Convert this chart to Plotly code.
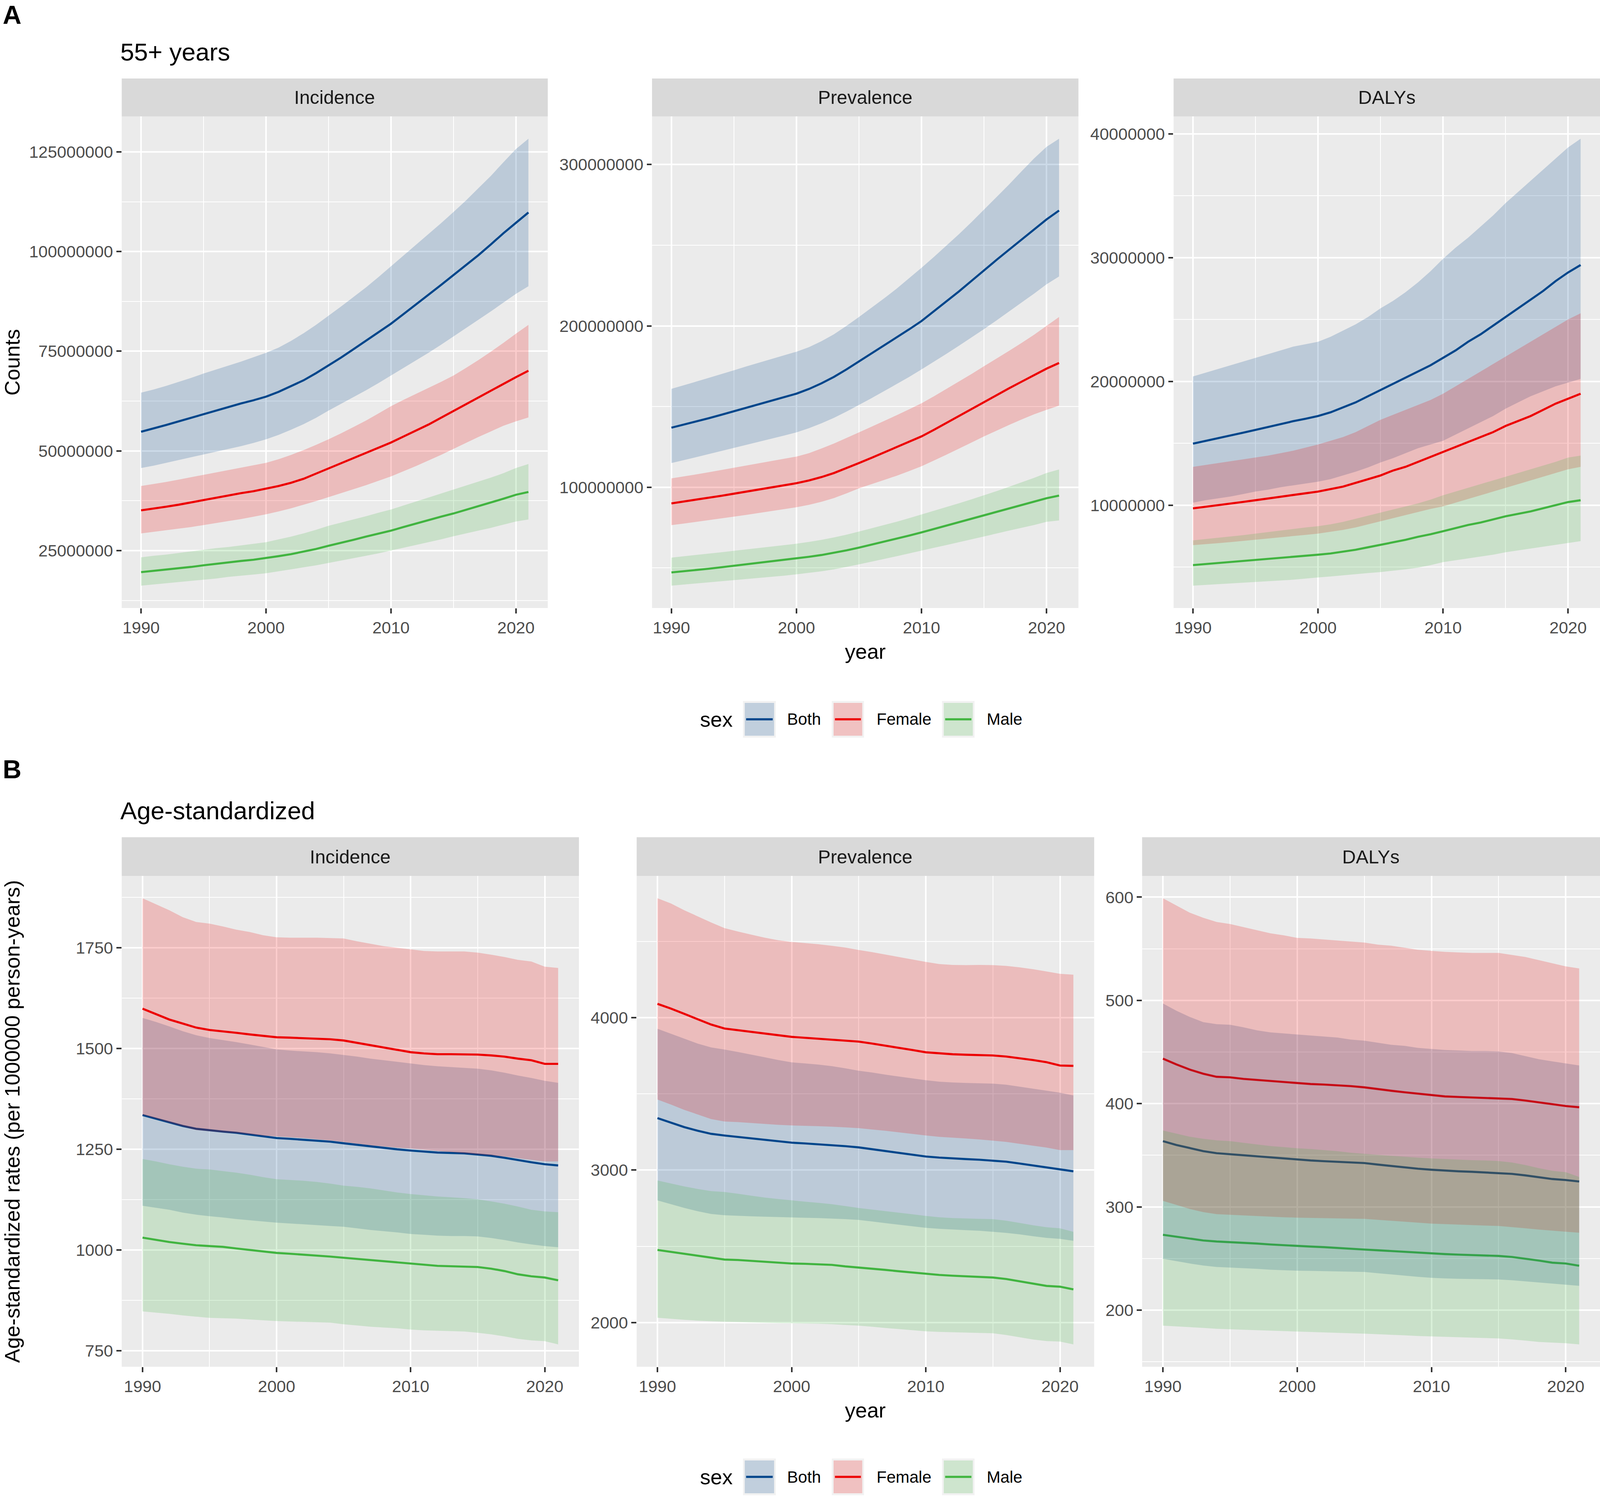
import plotly.graph_objects as go

# ------------------------------------------------------------------ data
years = list(range(1990, 2022))
sexes = ["Both", "Female", "Male"]

# ---- A: 55+ years, counts (values in millions) ----
# Incidence
cnt_inc_both = [54.8, 55.6, 56.5, 57.4, 58.3, 59.3, 60.2, 61.0, 61.9, 62.7,
                63.6, 64.8, 66.2, 67.7, 69.5, 71.4, 73.4, 75.5, 77.6, 79.7,
                81.9, 84.3, 86.7, 89.1, 91.6, 94.1, 96.6, 99.1, 101.8, 104.6,
                107.2, 109.8]
cnt_inc_both_hi = [64.6, 65.4, 66.3, 67.3, 68.3, 69.4, 70.4, 71.4, 72.4, 73.5,
                   74.6, 75.9, 77.6, 79.5, 81.6, 83.9, 86.2, 88.6, 91.0, 93.6,
                   96.3, 99.0, 101.7, 104.4, 107.1, 109.9, 112.8, 115.9, 119.0, 122.4,
                   125.7, 128.3]
cnt_inc_both_lo = [45.7, 46.3, 47.0, 47.7, 48.4, 49.1, 49.8, 50.5, 51.2, 52.0,
                   52.9, 54.0, 55.3, 56.7, 58.3, 60.1, 61.8, 63.5, 65.2, 67.0,
                   68.9, 70.8, 72.7, 74.6, 76.6, 78.7, 80.8, 82.9, 85.0, 87.2,
                   89.4, 91.3]
cnt_inc_fem = [35.1, 35.5, 36.0, 36.5, 37.1, 37.7, 38.3, 38.9, 39.4, 39.9,
               40.5, 41.2, 42.0, 43.0, 44.3, 45.6, 46.9, 48.2, 49.5, 50.8,
               52.1, 53.6, 55.1, 56.6, 58.3, 60.0, 61.7, 63.4, 65.1, 66.9,
               68.5, 70.1]
cnt_inc_fem_hi = [41.2, 41.7, 42.2, 42.8, 43.4, 44.0, 44.6, 45.2, 45.8, 46.4,
                  47.0, 47.9, 49.0, 50.2, 51.5, 52.9, 54.4, 56.0, 57.6, 59.4,
                  61.2, 62.8, 64.3, 65.8, 67.3, 68.9, 70.8, 72.8, 74.9, 77.1,
                  79.4, 81.6]
cnt_inc_fem_lo = [29.3, 29.7, 30.1, 30.5, 30.9, 31.4, 31.9, 32.4, 32.9, 33.5,
                  34.1, 34.8, 35.6, 36.5, 37.4, 38.4, 39.4, 40.4, 41.4, 42.5,
                  43.6, 44.9, 46.2, 47.6, 49.0, 50.5, 52.0, 53.5, 54.9, 56.3,
                  57.4, 58.4]
cnt_inc_male = [19.6, 19.9, 20.2, 20.6, 20.9, 21.3, 21.7, 22.0, 22.4, 22.7,
                23.1, 23.6, 24.1, 24.7, 25.4, 26.2, 26.9, 27.7, 28.5, 29.2,
                30.0, 30.9, 31.8, 32.6, 33.5, 34.3, 35.2, 36.1, 37.0, 38.0,
                39.0, 39.7]
cnt_inc_male_hi = [23.3, 23.7, 24.0, 24.4, 24.8, 25.2, 25.6, 25.9, 26.3, 26.7,
                   27.1, 27.8, 28.5, 29.3, 30.2, 31.2, 32.0, 32.8, 33.6, 34.5,
                   35.3, 36.3, 37.3, 38.3, 39.3, 40.3, 41.3, 42.3, 43.3, 44.4,
                   45.7, 46.7]
cnt_inc_male_lo = [16.2, 16.5, 16.8, 17.1, 17.4, 17.7, 18.0, 18.4, 18.7, 19.0,
                   19.3, 19.8, 20.3, 20.8, 21.3, 21.9, 22.5, 23.1, 23.7, 24.3,
                   25.0, 25.7, 26.4, 27.1, 27.8, 28.6, 29.3, 30.0, 30.7, 31.5,
                   32.3, 32.8]
# Prevalence
cnt_prev_both = [136.9, 138.8, 140.8, 142.8, 144.9, 147.1, 149.3, 151.5, 153.6, 155.8,
                 158.0, 160.9, 164.4, 168.4, 173.0, 178.0, 182.9, 187.8, 192.8, 197.8,
                 203.0, 209.0, 215.2, 221.4, 227.9, 234.5, 240.9, 247.2, 253.6, 259.9,
                 266.0, 271.5]
cnt_prev_both_hi = [161.0, 163.2, 165.5, 167.8, 170.1, 172.5, 174.9, 177.2, 179.5, 181.8,
                    184.0, 186.8, 190.5, 194.8, 200.0, 205.5, 211.2, 217.0, 223.0, 229.4,
                    236.0, 242.8, 249.8, 256.9, 264.3, 272.0, 279.8, 287.6, 295.8, 303.8,
                    311.0, 316.0]
cnt_prev_both_lo = [115.0, 116.8, 118.6, 120.5, 122.4, 124.3, 126.2, 128.2, 130.1, 132.0,
                    134.0, 136.6, 139.6, 143.0, 146.9, 151.0, 155.2, 159.5, 163.8, 168.3,
                    173.0, 177.8, 182.7, 187.7, 192.8, 198.0, 203.4, 208.9, 214.4, 220.0,
                    225.8, 230.6]
cnt_prev_fem = [90.0, 91.1, 92.3, 93.5, 94.7, 96.0, 97.3, 98.6, 99.9, 101.2,
                102.5, 104.2, 106.3, 108.8, 111.8, 115.0, 118.2, 121.5, 124.7, 128.1,
                131.5, 135.6, 139.9, 144.2, 148.6, 153.0, 157.2, 161.3, 165.4, 169.6,
                173.5, 177.0]
cnt_prev_fem_hi = [105.5, 106.7, 108.0, 109.3, 110.7, 112.0, 113.4, 114.8, 116.2, 117.6,
                   119.0, 121.1, 124.0, 127.1, 130.5, 134.0, 137.5, 141.0, 144.6, 148.3,
                   152.0, 156.4, 161.0, 165.5, 170.2, 175.0, 179.7, 184.5, 189.4, 194.5,
                   200.0, 205.5]
cnt_prev_fem_lo = [76.5, 77.5, 78.5, 79.6, 80.7, 81.8, 82.9, 84.0, 85.2, 86.4,
                   87.6, 89.1, 91.0, 93.3, 96.2, 99.3, 101.9, 104.5, 107.1, 110.0,
                   113.0, 116.6, 120.2, 123.9, 127.7, 131.5, 135.1, 138.6, 142.0, 145.2,
                   148.0, 150.6]
cnt_prev_male = [47.2, 47.9, 48.7, 49.5, 50.4, 51.3, 52.2, 53.1, 54.1, 55.0,
                 55.9, 56.9, 58.0, 59.3, 60.9, 62.6, 64.4, 66.2, 68.1, 70.0,
                 72.0, 74.1, 76.1, 78.2, 80.3, 82.4, 84.5, 86.6, 88.7, 90.8,
                 93.2, 94.8]
cnt_prev_male_hi = [56.4, 57.2, 58.0, 58.9, 59.7, 60.6, 61.5, 62.4, 63.3, 64.1,
                    65.0, 66.1, 67.4, 68.9, 70.6, 72.5, 74.5, 76.5, 78.6, 80.8,
                    83.1, 85.4, 87.7, 90.1, 92.5, 95.0, 97.6, 100.3, 103.0, 105.8,
                    108.8, 111.0]
cnt_prev_male_lo = [39.0, 39.6, 40.3, 41.0, 41.7, 42.4, 43.1, 43.8, 44.5, 45.2,
                    46.0, 46.9, 47.9, 49.1, 50.6, 52.2, 53.8, 55.5, 57.2, 59.0,
                    60.8, 62.5, 64.2, 66.0, 67.7, 69.5, 71.3, 73.1, 74.9, 76.6,
                    78.6, 79.4]
# DALYs
cnt_daly_both = [14.97, 15.18, 15.40, 15.62, 15.85, 16.08, 16.32, 16.55, 16.78, 16.98,
                 17.2, 17.5, 17.9, 18.3, 18.8, 19.3, 19.8, 20.3, 20.8, 21.3,
                 21.9, 22.5, 23.2, 23.8, 24.5, 25.2, 25.9, 26.6, 27.3, 28.1,
                 28.8, 29.4]
cnt_daly_both_hi = [20.4, 20.7, 21.0, 21.3, 21.6, 21.9, 22.2, 22.5, 22.8, 23.0,
                    23.2, 23.6, 24.1, 24.6, 25.2, 25.9, 26.5, 27.2, 28.0, 28.9,
                    29.9, 30.8, 31.6, 32.5, 33.4, 34.4, 35.3, 36.2, 37.1, 38.0,
                    38.9, 39.6]
cnt_daly_both_lo = [10.2, 10.4, 10.55, 10.7, 10.9, 11.1, 11.25, 11.45, 11.6, 11.75,
                    11.9, 12.1, 12.4, 12.7, 13.05, 13.45, 13.8, 14.2, 14.6, 14.9,
                    15.2, 15.7, 16.2, 16.7, 17.2, 17.8, 18.3, 18.8, 19.2, 19.6,
                    19.9, 20.2]
cnt_daly_fem = [9.74, 9.86, 9.99, 10.12, 10.26, 10.4, 10.55, 10.69, 10.83, 10.96,
                11.1, 11.3, 11.5, 11.8, 12.1, 12.4, 12.8, 13.1, 13.5, 13.9,
                14.3, 14.7, 15.1, 15.5, 15.9, 16.4, 16.8, 17.2, 17.7, 18.2,
                18.6, 19.0]
cnt_daly_fem_hi = [13.1, 13.25, 13.4, 13.55, 13.7, 13.85, 14.0, 14.2, 14.4, 14.65,
                   14.9, 15.2, 15.5, 15.9, 16.4, 16.9, 17.3, 17.7, 18.1, 18.5,
                   19.0, 19.6, 20.2, 20.8, 21.4, 22.0, 22.6, 23.2, 23.8, 24.4,
                   25.0, 25.5]
cnt_daly_fem_lo = [6.77, 6.85, 6.93, 7.02, 7.11, 7.2, 7.3, 7.4, 7.5, 7.6,
                   7.7, 7.85, 8.0, 8.2, 8.45, 8.7, 8.95, 9.2, 9.45, 9.7,
                   9.9, 10.2, 10.5, 10.8, 11.1, 11.4, 11.7, 12.0, 12.3, 12.6,
                   12.9, 13.1]
cnt_daly_male = [5.16, 5.24, 5.32, 5.41, 5.5, 5.59, 5.68, 5.76, 5.84, 5.92,
                 6.0, 6.1, 6.25, 6.4, 6.6, 6.8, 7.0, 7.2, 7.45, 7.65,
                 7.9, 8.15, 8.4, 8.6, 8.85, 9.1, 9.3, 9.5, 9.75, 10.0,
                 10.25, 10.4]
cnt_daly_male_hi = [7.16, 7.26, 7.36, 7.47, 7.58, 7.7, 7.83, 7.95, 8.07, 8.2,
                    8.3, 8.45, 8.65, 8.9, 9.15, 9.4, 9.65, 9.9, 10.15, 10.45,
                    10.8, 11.1, 11.4, 11.7, 12.0, 12.3, 12.6, 12.9, 13.2, 13.5,
                    13.85, 14.0]
cnt_daly_male_lo = [3.5, 3.56, 3.62, 3.68, 3.74, 3.8, 3.86, 3.92, 3.98, 4.07,
                    4.16, 4.24, 4.32, 4.42, 4.52, 4.6, 4.7, 4.82, 4.96, 5.16,
                    5.4, 5.55, 5.7, 5.85, 6.0, 6.2, 6.35, 6.5, 6.65, 6.8,
                    6.95, 7.1]

# ---- B: age-standardized rates (per 1000000 person-years) ----
# Incidence
asr_inc_both = [1335, 1326, 1316, 1308, 1301, 1297, 1294, 1291, 1287, 1282,
                1278, 1276, 1274, 1272, 1269, 1265, 1261, 1257, 1253, 1250,
                1247, 1244, 1242, 1241, 1240, 1237, 1234, 1229, 1223, 1218,
                1213, 1210]
asr_inc_both_hi = [1576, 1566, 1555, 1543, 1533, 1526, 1521, 1516, 1510, 1504,
                   1498, 1495, 1493, 1491, 1488, 1484, 1480, 1475, 1471, 1467,
                   1463, 1459, 1456, 1454, 1452, 1450, 1446, 1440, 1433, 1427,
                   1420, 1415]
asr_inc_both_lo = [1110, 1105, 1100, 1093, 1088, 1084, 1081, 1077, 1074, 1071,
                   1068, 1066, 1064, 1062, 1060, 1058, 1054, 1050, 1047, 1044,
                   1040, 1038, 1036, 1035, 1035, 1034, 1030, 1025, 1019, 1014,
                   1010, 1007]
asr_inc_fem = [1599, 1586, 1572, 1562, 1552, 1546, 1543, 1539, 1535, 1531,
               1528, 1527, 1526, 1525, 1523, 1520, 1514, 1508, 1502, 1496,
               1491, 1488, 1486, 1486, 1486, 1485, 1483, 1480, 1475, 1471,
               1462, 1462]
asr_inc_fem_hi = [1873, 1858, 1843, 1826, 1814, 1810, 1803, 1795, 1789, 1781,
                  1776, 1775, 1775, 1775, 1774, 1773, 1766, 1760, 1754, 1750,
                  1746, 1742, 1741, 1741, 1741, 1738, 1733, 1727, 1720, 1716,
                  1703, 1700]
asr_inc_fem_lo = [1336, 1326, 1316, 1307, 1298, 1295, 1292, 1290, 1287, 1284,
                  1282, 1280, 1278, 1275, 1272, 1268, 1264, 1260, 1257, 1254,
                  1252, 1249, 1246, 1243, 1240, 1237, 1235, 1232, 1228, 1224,
                  1220, 1220]
asr_inc_male = [1031, 1025, 1020, 1016, 1012, 1010, 1008, 1004, 1000, 996,
                993, 991, 989, 987, 984, 981, 978, 975, 972, 969,
                966, 963, 961, 960, 959, 958, 954, 948, 940, 935,
                932, 925]
asr_inc_male_hi = [1226, 1220, 1213, 1207, 1202, 1200, 1196, 1192, 1187, 1181,
                   1176, 1174, 1172, 1169, 1165, 1160, 1157, 1153, 1148, 1143,
                   1139, 1136, 1133, 1131, 1129, 1126, 1121, 1115, 1108, 1100,
                   1096, 1094]
asr_inc_male_lo = [848, 845, 842, 838, 835, 832, 831, 830, 828, 826,
                   824, 823, 822, 821, 820, 816, 813, 810, 808, 806,
                   803, 801, 800, 799, 798, 795, 791, 786, 780, 776,
                   774, 766]
# Prevalence
asr_prev_both = [3341, 3310, 3282, 3258, 3238, 3227, 3218, 3208, 3198, 3188,
                 3180, 3175, 3170, 3164, 3157, 3149, 3137, 3125, 3113, 3101,
                 3089, 3082, 3076, 3072, 3068, 3063, 3055, 3043, 3030, 3017,
                 3005, 2992]
asr_prev_both_hi = [3927, 3895, 3862, 3830, 3805, 3791, 3775, 3758, 3740, 3722,
                    3707, 3700, 3692, 3682, 3668, 3652, 3640, 3626, 3614, 3602,
                    3590, 3580, 3575, 3572, 3570, 3567, 3560, 3547, 3533, 3520,
                    3508, 3490]
asr_prev_both_lo = [2801, 2776, 2752, 2730, 2712, 2704, 2700, 2697, 2694, 2691,
                    2689, 2687, 2685, 2682, 2678, 2673, 2663, 2652, 2642, 2631,
                    2621, 2615, 2610, 2606, 2602, 2595, 2588, 2578, 2566, 2555,
                    2549, 2536]
asr_prev_fem = [4091, 4060, 4025, 3990, 3955, 3929, 3918, 3905, 3893, 3882,
                3874, 3868, 3862, 3856, 3850, 3843, 3830, 3817, 3803, 3788,
                3773, 3765, 3760, 3757, 3755, 3752, 3745, 3735, 3722, 3708,
                3686, 3684]
asr_prev_fem_hi = [4784, 4750, 4705, 4665, 4625, 4588, 4565, 4545, 4525, 4508,
                   4497, 4490, 4482, 4472, 4460, 4444, 4430, 4414, 4398, 4382,
                   4366, 4352, 4346, 4345, 4346, 4345, 4340, 4330, 4318, 4303,
                   4288, 4282]
asr_prev_fem_lo = [3463, 3430, 3395, 3365, 3335, 3319, 3315, 3310, 3303, 3297,
                   3293, 3290, 3288, 3285, 3280, 3275, 3266, 3258, 3248, 3237,
                   3227, 3218, 3212, 3207, 3201, 3193, 3185, 3172, 3160, 3148,
                   3131, 3131]
asr_prev_male = [2476, 2463, 2450, 2438, 2425, 2413, 2410, 2404, 2397, 2391,
                 2387, 2385, 2382, 2378, 2368, 2361, 2353, 2345, 2336, 2327,
                 2319, 2312, 2307, 2303, 2300, 2295, 2285, 2270, 2253, 2240,
                 2235, 2217]
asr_prev_male_hi = [2932, 2912, 2893, 2876, 2862, 2856, 2845, 2832, 2820, 2810,
                    2801, 2793, 2785, 2776, 2764, 2751, 2741, 2731, 2720, 2710,
                    2699, 2690, 2685, 2682, 2680, 2678, 2668, 2653, 2638, 2625,
                    2618, 2595]
asr_prev_male_lo = [2031, 2024, 2018, 2012, 2008, 2005, 2002, 2000, 1998, 1996,
                    1995, 1994, 1992, 1989, 1984, 1979, 1972, 1964, 1956, 1949,
                    1942, 1938, 1935, 1933, 1931, 1929, 1918, 1903, 1888, 1878,
                    1875, 1856]
# DALYs
asr_daly_both = [363.7, 360, 357, 354, 352, 351, 350, 349, 347.5, 346.5,
                 345.6, 345, 344.3, 343.6, 343, 342.5, 341, 339.5, 338.3, 337,
                 336, 335, 334.5, 334, 333.5, 333, 332, 330.5, 328.5, 327,
                 326, 324.6]
asr_daly_both_hi = [497, 490, 484, 479, 477, 476.4, 474, 471, 469, 468,
                    466.8, 466, 465, 464, 462, 461, 459, 457, 456, 454,
                    453, 452, 451.5, 451, 451, 450.6, 449, 446, 443, 441,
                    439, 437]
asr_daly_both_lo = [249.8, 247.5, 245.2, 243.2, 241.8, 241.3, 240.7, 240, 239.2, 238.6,
                    238.2, 238, 237.8, 237.6, 237.3, 237, 235.8, 234.6, 233.4, 232.3,
                    231.3, 230.8, 230.4, 230.1, 229.9, 229.7, 229, 228, 227, 225.8,
                    224.7, 223.6]
asr_daly_fem = [443.6, 438, 433, 429, 426, 425.5, 424, 423, 421.5, 420.5,
                419.7, 419, 418.5, 418, 417, 415.8, 414, 412.5, 411, 409.5,
                408, 407, 406.5, 406, 406, 405.4, 404.5, 403, 401, 399.5,
                397.7, 396.5]
asr_daly_fem_hi = [599, 592, 585, 580, 576, 574, 571, 568, 565, 563,
                   560.6, 560, 559, 558, 557, 556, 554, 553, 551, 549,
                   548, 547, 546.5, 546, 546, 546, 544, 542, 539, 536,
                   533, 531]
asr_daly_fem_lo = [305.8, 302, 298, 295, 293, 292.3, 291.8, 291.2, 290.6, 290,
                   289.6, 289.3, 289, 288.8, 288.6, 288.4, 287.5, 286.6, 285.6, 284.7,
                   283.8, 283.3, 282.8, 282.3, 281.9, 281.5, 280.5, 279.3, 278, 277,
                   276, 275]
asr_daly_male = [273, 271, 269, 267.5, 266.5, 266, 265.3, 264.5, 263.6, 262.8,
                 262.2, 261.6, 261, 260.4, 259.6, 258.7, 258, 257.2, 256.4, 255.6,
                 254.8, 254.3, 253.8, 253.4, 253, 252.5, 251.5, 250, 248, 246,
                 245.2, 243]
asr_daly_male_hi = [374, 371, 368, 366, 364.5, 363.7, 362, 360.5, 359, 357.8,
                    356.8, 356, 355, 354, 352.5, 351.4, 350.5, 349.5, 348.5, 347.7,
                    347, 346.3, 345.8, 345.3, 345, 344.4, 343, 340.5, 337.5, 335,
                    333.6, 329]
asr_daly_male_lo = [185, 184.2, 183.5, 182.8, 182, 181.5, 181, 180.6, 180.1, 179.6,
                    179.2, 178.8, 178.4, 178, 177.6, 177.2, 176.7, 176.2, 175.6, 175,
                    174.5, 174.1, 173.8, 173.4, 173, 172.6, 171.7, 170.5, 169.2, 168.5,
                    168, 166.8]

# tick values
x_ticks = [1990, 2000, 2010, 2020]
x_minor = [1995, 2005, 2015]
yt_cnt_inc = [25e6, 50e6, 75e6, 100e6, 125e6]
yt_cnt_prev = [100e6, 200e6, 300e6]
yt_cnt_daly = [10e6, 20e6, 30e6, 40e6]
yt_asr_inc = [750, 1000, 1250, 1500, 1750]
yt_asr_prev = [2000, 3000, 4000]
yt_asr_daly = [200, 300, 400, 500, 600]

# ------------------------------------------------------------------ style
# Design coordinates are reference pixels (4574 x 3831). The browser page is
# 4096 CSS px wide, so widths / font sizes are scaled by S; the figure fills
# the full window height.
W, H = 4574, 3831
S = 4096 / 4574
FIG_W, FIG_H = 4096, 3831


def k(v):
    return v * S


FONT = "Liberation Sans, Arial, Helvetica, sans-serif"
LINE = {"Both": "#00468B", "Female": "#ED0000", "Male": "#42B540"}
FILL = {"Both": "rgba(0,70,139,0.2)", "Female": "rgba(237,0,0,0.2)",
        "Male": "rgba(66,181,64,0.2)"}

TOP_Y = (298, 1557)
TOP_STRIP = (201, 298)
BOT_Y = (2243, 3500)
BOT_STRIP = (2144, 2243)
TOP_X = [(348, 1566), (1864, 3083), (3355, 4574)]
BOT_X = [(348, 1655), (1820, 3128), (3265, 4574)]


def px(x):
    return x / W


def py(y):
    return 1 - y / H


M = 1e6
panels = [
    dict(name="Incidence", xs=TOP_X[0], ys=TOP_Y, strip=TOP_STRIP, scale=M, yt=yt_cnt_inc,
         s={"Both": (cnt_inc_both, cnt_inc_both_lo, cnt_inc_both_hi),
            "Female": (cnt_inc_fem, cnt_inc_fem_lo, cnt_inc_fem_hi),
            "Male": (cnt_inc_male, cnt_inc_male_lo, cnt_inc_male_hi)}),
    dict(name="Prevalence", xs=TOP_X[1], ys=TOP_Y, strip=TOP_STRIP, scale=M, yt=yt_cnt_prev,
         s={"Both": (cnt_prev_both, cnt_prev_both_lo, cnt_prev_both_hi),
            "Female": (cnt_prev_fem, cnt_prev_fem_lo, cnt_prev_fem_hi),
            "Male": (cnt_prev_male, cnt_prev_male_lo, cnt_prev_male_hi)}),
    dict(name="DALYs", xs=TOP_X[2], ys=TOP_Y, strip=TOP_STRIP, scale=M, yt=yt_cnt_daly,
         s={"Both": (cnt_daly_both, cnt_daly_both_lo, cnt_daly_both_hi),
            "Female": (cnt_daly_fem, cnt_daly_fem_lo, cnt_daly_fem_hi),
            "Male": (cnt_daly_male, cnt_daly_male_lo, cnt_daly_male_hi)}),
    dict(name="Incidence", xs=BOT_X[0], ys=BOT_Y, strip=BOT_STRIP, scale=1, yt=yt_asr_inc,
         s={"Both": (asr_inc_both, asr_inc_both_lo, asr_inc_both_hi),
            "Female": (asr_inc_fem, asr_inc_fem_lo, asr_inc_fem_hi),
            "Male": (asr_inc_male, asr_inc_male_lo, asr_inc_male_hi)}),
    dict(name="Prevalence", xs=BOT_X[1], ys=BOT_Y, strip=BOT_STRIP, scale=1, yt=yt_asr_prev,
         s={"Both": (asr_prev_both, asr_prev_both_lo, asr_prev_both_hi),
            "Female": (asr_prev_fem, asr_prev_fem_lo, asr_prev_fem_hi),
            "Male": (asr_prev_male, asr_prev_male_lo, asr_prev_male_hi)}),
    dict(name="DALYs", xs=BOT_X[2], ys=BOT_Y, strip=BOT_STRIP, scale=1, yt=yt_asr_daly,
         s={"Both": (asr_daly_both, asr_daly_both_lo, asr_daly_both_hi),
            "Female": (asr_daly_fem, asr_daly_fem_lo, asr_daly_fem_hi),
            "Male": (asr_daly_male, asr_daly_male_lo, asr_daly_male_hi)}),
]

fig = go.Figure()
layout = {}
shapes = []
annotations = []

xspan = max(years) - min(years)
xrange_ = [min(years) - 0.05 * xspan, max(years) + 0.05 * xspan]

for i, p in enumerate(panels):
    n = i + 1
    xa = "x" if n == 1 else f"x{n}"
    ya = "y" if n == 1 else f"y{n}"
    sc = p["scale"]
    for sex in sexes:
        val = p["s"][sex][0]
        assert len(val) == len(years)
        fig.add_trace(go.Scatter(x=years, y=[v * sc for v in val], mode="lines",
                                 line=dict(color=LINE[sex], width=k(6)),
                                 xaxis=xa, yaxis=ya, showlegend=False, hoverinfo="skip"))
    for sex in sexes:
        _, lo, hi = p["s"][sex]
        assert len(lo) == len(years) and len(hi) == len(years)
        fig.add_trace(go.Scatter(x=years + years[::-1],
                                 y=[v * sc for v in hi] + [v * sc for v in lo][::-1],
                                 mode="lines", fill="toself", fillcolor=FILL[sex],
                                 line=dict(width=0, color=FILL[sex]),
                                 xaxis=xa, yaxis=ya, showlegend=False, hoverinfo="skip"))
    allv = []
    for sex in sexes:
        for arr in p["s"][sex]:
            allv += [v * sc for v in arr]
    ymin, ymax = min(allv), max(allv)
    pad = 0.05 * (ymax - ymin)
    yr = [ymin - pad, ymax + pad]
    step = p["yt"][1] - p["yt"][0]
    yminor = [p["yt"][0] - step / 2] + [t + step / 2 for t in p["yt"]]

    common = dict(showgrid=True, gridcolor="white", gridwidth=k(5), zeroline=False,
                  showline=False, ticks="outside", ticklen=k(14), tickwidth=k(5),
                  tickcolor="#333333",
                  tickfont=dict(family=FONT, size=k(48), color="#4D4D4D"),
                  fixedrange=True)
    layout["xaxis" if n == 1 else f"xaxis{n}"] = dict(
        domain=[px(p["xs"][0]), px(p["xs"][1])], anchor=ya, range=xrange_,
        tickmode="array", tickvals=x_ticks, ticktext=[str(t) for t in x_ticks],
        minor=dict(tickmode="array", tickvals=x_minor, showgrid=True,
                   gridcolor="white", gridwidth=k(2.5), ticks=""),
        **common)
    layout["yaxis" if n == 1 else f"yaxis{n}"] = dict(
        domain=[py(p["ys"][1]), py(p["ys"][0])], anchor=xa, range=yr,
        tickmode="array", tickvals=p["yt"], ticktext=[f"{int(round(t))}" for t in p["yt"]],
        minor=dict(tickmode="array", tickvals=yminor, showgrid=True,
                   gridcolor="white", gridwidth=k(2.5), ticks=""),
        **common)
    # strip
    shapes.append(dict(type="rect", xref="paper", yref="paper",
                       x0=px(p["xs"][0]), x1=px(p["xs"][1]),
                       y0=py(p["strip"][1]), y1=py(p["strip"][0]),
                       fillcolor="#D9D9D9", line=dict(width=0), layer="below"))
    annotations.append(dict(text=p["name"], xref="paper", yref="paper",
                            x=px((p["xs"][0] + p["xs"][1]) / 2),
                            y=py((p["strip"][0] + p["strip"][1]) / 2),
                            xanchor="center", yanchor="middle", showarrow=False,
                            font=dict(family=FONT, size=k(54), color="#1A1A1A")))


def text(t, x, y, size, xanchor="left", yanchor="middle", angle=0, bold=False, color="black"):
    annotations.append(dict(text=f"<b>{t}</b>" if bold else t, xref="paper", yref="paper",
                            x=px(x), y=py(y), xanchor=xanchor, yanchor=yanchor,
                            showarrow=False, textangle=angle,
                            font=dict(family=FONT, size=k(size), color=color)))


text("A", 6, 38, 74, bold=True)
text("B", 6, 1970, 74, bold=True)
text("55+ years", 342, 133, 71)
text("Age-standardized", 342, 2075, 71)
text("Counts", 34, (TOP_Y[0] + TOP_Y[1]) / 2, 60, xanchor="center", angle=-90)
text("Age-standardized rates (per 1000000 person-years)", 34, (BOT_Y[0] + BOT_Y[1]) / 2,
     60, xanchor="center", angle=-90)
text("year", (TOP_X[1][0] + TOP_X[1][1]) / 2, 1668, 60, xanchor="center")
text("year", (BOT_X[1][0] + BOT_X[1][1]) / 2, 3611, 60, xanchor="center")

# legends
key_x = [(2124, 2218), (2378, 2470), (2693, 2786)]
lab_x = [2248, 2504, 2818]
for cy in (1842, 3782):
    text("sex", 1999, cy, 60)
    for j, sex in enumerate(sexes):
        x0, x1 = key_x[j]
        y0, y1 = cy - 47, cy + 47
        shapes.append(dict(type="rect", xref="paper", yref="paper",
                           x0=px(x0), x1=px(x1), y0=py(y1), y1=py(y0),
                           fillcolor="#F2F2F2", line=dict(width=0)))
        shapes.append(dict(type="rect", xref="paper", yref="paper",
                           x0=px(x0 + 5), x1=px(x1 - 5), y0=py(y1 - 5), y1=py(y0 + 5),
                           fillcolor=FILL[sex], line=dict(width=0)))
        shapes.append(dict(type="line", xref="paper", yref="paper",
                           x0=px(x0 + 9), x1=px(x1 - 9), y0=py(cy), y1=py(cy),
                           line=dict(color=LINE[sex], width=k(6))))
        text(sex, lab_x[j], cy, 47)

fig.update_layout(width=FIG_W, height=FIG_H, autosize=False,
                  margin=dict(l=0, r=0, t=0, b=0, pad=0),
                  paper_bgcolor="white", plot_bgcolor="#EBEBEB",
                  font=dict(family=FONT), showlegend=False,
                  shapes=shapes, annotations=annotations, **layout)

fig.write_html("out.html", config={"displayModeBar": False},
               post_script="document.body.style.margin='0px';")
